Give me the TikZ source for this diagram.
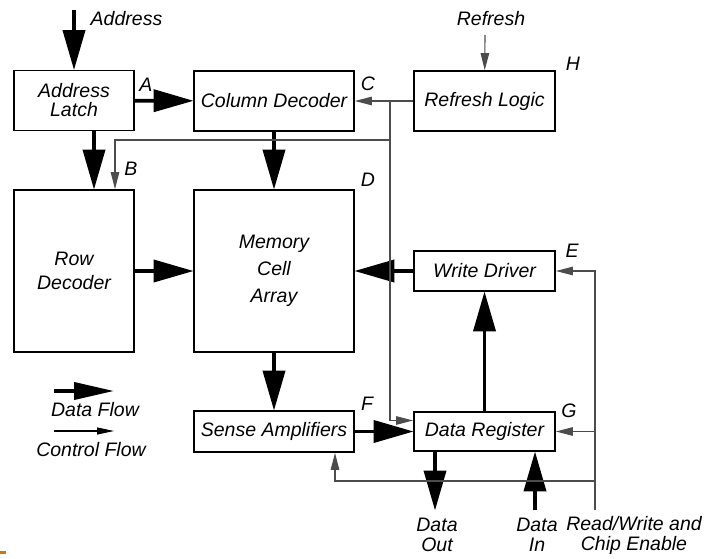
\documentclass[tikz,border=0pt]{standalone}
\usepackage{fontspec}
\setmainfont{Liberation Sans}
\usetikzlibrary{arrows.meta}
\begin{document}
\begin{tikzpicture}[x=1pt,y=-1pt,
  every node/.style={font=\fontsize{19.5}{23}\selectfont\itshape},
  blk/.style={draw, line width=1.8pt, inner sep=0pt, align=center},
  lbl/.style={inner sep=0pt, align=center},
  data/.style={line width=3.8pt, -{Triangle[length=40pt,width=22pt]}, shorten >=-0.5pt},
  ctrl/.style={line width=1.1pt, draw=black!70, -{Triangle[length=17pt,width=8.5pt]}},
  cline/.style={line width=1.1pt, draw=black!70}]
\useasboundingbox (0,0) rectangle (709,559);
\fill[white] (0,0) rectangle (709,559);
% boxes
\node[blk, minimum width=120pt, minimum height=60pt, font=\fontsize{19.5}{19}\selectfont\itshape] (alatch) at (74,100.5) {Address\\Latch};
\node[blk, minimum width=160pt, minimum height=60pt] (coldec) at (274,101) {Column Decoder};
\node[blk, minimum width=141pt, minimum height=60pt] (refresh) at (484.5,101) {Refresh Logic};
\node[blk, minimum width=120pt, minimum height=162pt, font=\fontsize{19.5}{24}\selectfont\itshape] (rowdec) at (74,271) {Row\\Decoder};
\node[blk, minimum width=160pt, minimum height=162pt, font=\fontsize{19.5}{27}\selectfont\itshape] (mem) at (274,271) {Memory\\Cell\\Array};
\node[blk, minimum width=141pt, minimum height=40pt] (wdrv) at (484.5,271) {Write Driver};
\node[blk, minimum width=160pt, minimum height=41pt] (sense) at (274,431.5) {Sense Amplifiers};
\node[blk, minimum width=141pt, minimum height=39pt] (dreg) at (484.5,431.5) {Data Register};
% free ends
\coordinate (ain) at (74,10);
\coordinate (rin) at (485,35);
\coordinate (j1) at (390,101);
\coordinate (j2) at (390,140);
\coordinate (rw) at (595,510);
\coordinate (rwg) at (595,431.5);
\coordinate (rwf) at (595,481);
\coordinate (dout) at (435,510);
\coordinate (din) at (535,510);
\coordinate (l1a) at (54,391);
\coordinate (l1b) at (114,391);
\coordinate (l2a) at (54,431);
\coordinate (l2b) at (114,431);
% data flow
\draw[data] (ain) -- (alatch);
\draw[data] (alatch) -- (coldec);
\draw[data] ([xshift=20pt]alatch.south) -- ([xshift=20pt]rowdec.north);
\draw[data] (coldec) -- (mem);
\draw[data] (rowdec) -- (mem);
\draw[data] (wdrv) -- (mem);
\draw[data] (mem) -- (sense);
\draw[data] (sense) -- (dreg);
\draw[data] (dreg) -- (wdrv);
\draw[data] (dreg.south -| dout) -- (dout);
\draw[data] (din) -- (din |- dreg.south);
% control flow
\draw[ctrl] (rin) -- (refresh);
\draw[ctrl] (refresh) -- (coldec);
\draw[ctrl] (j1) |- ([yshift=11pt]dreg.west);
\draw[ctrl] (j2) -| ([xshift=41pt]rowdec.north);
\draw[ctrl] (rw) |- (wdrv.east);
\draw[ctrl] (rwg) -- (dreg.east);
\draw[ctrl] (rwf) -| ([xshift=61pt]sense.south);
% legend
\draw[line width=3.8pt, -{Triangle[length=40pt,width=17pt]}] (l1a) -- (l1b);
\draw[line width=1.1pt, -{Triangle[length=17pt,width=7pt]}] (l2a) -- (l2b);
\node[lbl] (tdf) at (95,410) {Data Flow};
\node[lbl] (tcf) at (91,450) {Control Flow};
% labels
\node[lbl] (tA) at (146,85) {A};
\node[lbl] (tB) at (131,169) {B};
\node[lbl] (tC) at (368,84) {C};
\node[lbl] (tD) at (368,180) {D};
\node[lbl] (tE) at (572,251) {E};
\node[lbl] (tF) at (367,404) {F};
\node[lbl] (tG) at (569,411) {G};
\node[lbl] (tH) at (573,64) {H};
\node[lbl] (taddr) at (126.5,19) {Address};
\node[lbl] (tref) at (491,19) {Refresh};
\node[lbl, font=\fontsize{19.5}{20}\selectfont\itshape] (tdout) at (437,535) {Data\\Out};
\node[lbl, font=\fontsize{19.5}{20}\selectfont\itshape] (tdin) at (537,535) {Data\\In};
\node[lbl, font=\fontsize{19.5}{20}\selectfont\itshape] (trw) at (634,535) {Read/Write and\\Chip Enable};
% slide artifact
\fill[orange!80!yellow!80!black] (0,550.5) rectangle (6,554);
\end{tikzpicture}
\end{document}
